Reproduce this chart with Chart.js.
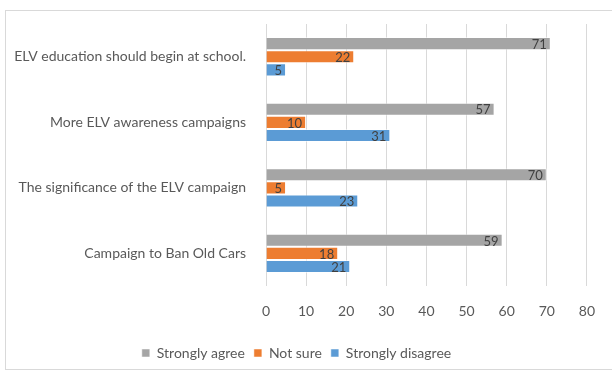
<!DOCTYPE html>
<html lang="en">
<head>
  <meta charset="UTF-8">
  <title>ELV survey</title>
  <style>
    body { margin: 0; background: #fff; font-family: Lato, "Open Sans", sans-serif; }
    .frame { position: absolute; left: 5px; top: 10px; width: 620px; height: 358px; border: 1px solid #d9d9d9; }
    #chart { position: absolute; left: 0; top: 0; }
  </style>
  <script src="https://cdn.jsdelivr.net/npm/chart.js"></script>
</head>
<body>
  <div class="frame"></div>
  <canvas id="chart" width="612" height="373"></canvas>

  <script>
    const categories = [
      'ELV education should begin at school.',
      'More ELV awareness campaigns',
      'The significance of the ELV campaign',
      'Campaign to Ban Old Cars'
    ];
    const stronglyAgree = [71, 57, 70, 59];
    const notSure = [22, 10, 5, 18];
    const stronglyDisagree = [5, 31, 23, 21];
    const xTicks = [0, 10, 20, 30, 40, 50, 60, 70, 80];

    // values written inside the end of each bar
    const barLabels = {
      id: 'barLabels',
      afterDatasetsDraw(chart) {
        const ctx = chart.ctx;
        ctx.save();
        ctx.font = '13px Lato, sans-serif';
        ctx.fillStyle = '#404040';
        ctx.textAlign = 'right';
        ctx.textBaseline = 'middle';
        chart.data.datasets.forEach((ds, i) => {
          chart.getDatasetMeta(i).data.forEach((bar, j) => {
            ctx.fillText(ds.data[j], bar.x - 4, bar.y + 1);
          });
        });
        ctx.restore();
      }
    };

    new Chart(document.getElementById('chart'), {
      type: 'bar',
      data: {
        labels: categories,
        datasets: [
          { label: 'Strongly agree', data: stronglyAgree, backgroundColor: '#a5a5a5' },
          { label: 'Not sure', data: notSure, backgroundColor: '#ed7d31' },
          { label: 'Strongly disagree', data: stronglyDisagree, backgroundColor: '#5b9bd5' }
        ]
      },
      options: {
        indexAxis: 'y',
        responsive: false,
        animation: false,
        datasets: {
          bar: { categoryPercentage: 0.6, barPercentage: 1.0, borderWidth: 1, borderColor: 'rgba(255,255,255,0.5)' }
        },
        layout: { padding: { top: 24, right: 19, bottom: 3, left: 0 } },
        plugins: {
          legend: {
            position: 'bottom',
            labels: {
              font: { family: 'Lato', size: 14 },
              color: '#595959',
              boxWidth: 8,
              boxHeight: 8,
              padding: 9
            }
          },
          tooltip: { enabled: false }
        },
        scales: {
          x: {
            min: 0,
            max: 80,
            afterBuildTicks: axis => { axis.ticks = xTicks.map(v => ({ value: v })); },
            grid: { color: '#d9d9d9', drawTicks: false },
            border: { display: false },
            ticks: { color: '#595959', font: { family: 'Lato', size: 14 }, padding: 17 }
          },
          y: {
            grid: { display: false },
            border: { display: false },
            afterFit: axis => { axis.width = 266; },
            ticks: { color: '#595959', font: { family: 'Lato', size: 14 }, padding: 12 }
          }
        }
      },
      plugins: [barLabels]
    });
  </script>
</body>
</html>
